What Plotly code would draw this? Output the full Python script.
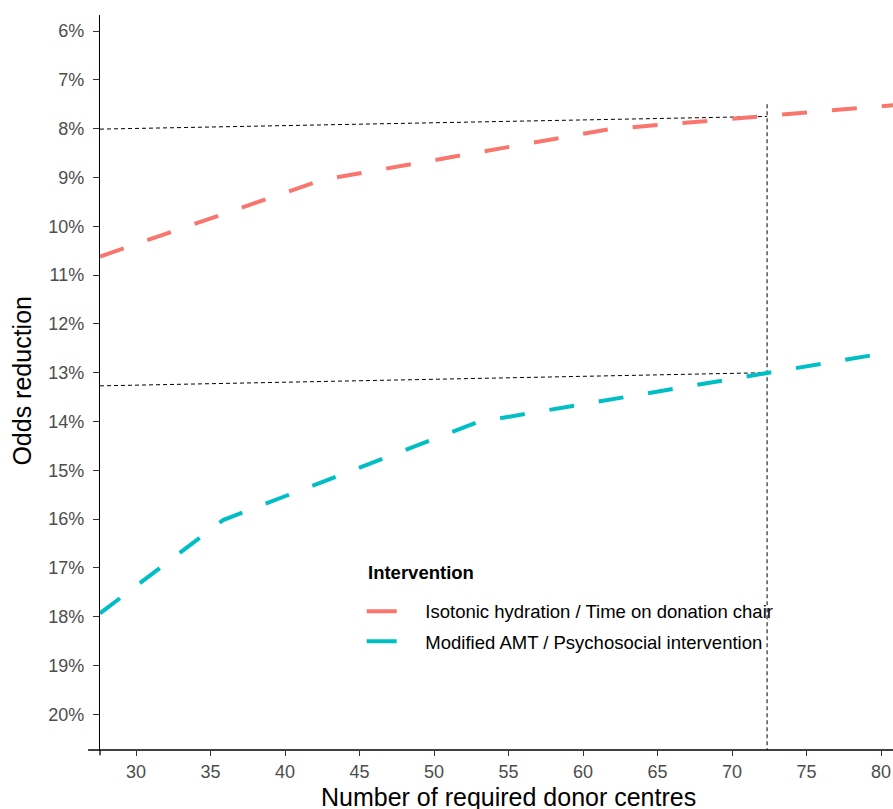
import plotly.graph_objects as go

# ---- data ----
red_name = "Isotonic hydration / Time on donation chair"
red_x = [27.58, 42.5, 61.8, 80.8]
red_y = [10.62, 9.05, 8.01, 7.52]

cyan_name = "Modified AMT / Psychosocial intervention"
cyan_x = [27.58, 35.84, 52.95, 80.8]
cyan_y = [17.93, 16.02, 14.01, 12.57]

ref_x_left = 27.58
ref_x = 72.35
ref_red_left = 8.01
ref_red_right = 7.75
ref_cyan_left = 13.27
ref_cyan_right = 13.0
ref_v_top = 7.5

x_range = [27.58, 80.8]
y_range = [20.73, 5.672]
x_ticks = [30, 35, 40, 45, 50, 55, 60, 65, 70, 75, 80]
y_ticks = list(range(6, 21))
y_ticktext = [f"{v}%" for v in y_ticks]

RED = "#F8766D"
CYAN = "#00BFC4"
FONT = "Liberation Sans, Arial, sans-serif"
PAD = "\u2003\u00a0"  # visual gap between legend key and label

fig = go.Figure()

dot = dict(color="black", width=1, dash="4px,3px")
fig.add_trace(go.Scatter(x=[ref_x_left, ref_x], y=[ref_red_left, ref_red_right],
                         mode="lines", line=dot, showlegend=False, hoverinfo="skip"))
fig.add_trace(go.Scatter(x=[ref_x_left, ref_x], y=[ref_cyan_left, ref_cyan_right],
                         mode="lines", line=dot, showlegend=False, hoverinfo="skip"))
fig.add_trace(go.Scatter(x=[ref_x, ref_x], y=[ref_v_top, y_range[0]],
                         mode="lines", line=dot, showlegend=False, hoverinfo="skip"))

# data lines (dashed)
fig.add_trace(go.Scatter(x=red_x, y=red_y, mode="lines", name=red_name,
                         showlegend=False,
                         line=dict(color=RED, width=4, dash="25px,25px")))
fig.add_trace(go.Scatter(x=cyan_x, y=cyan_y, mode="lines", name=cyan_name,
                         showlegend=False,
                         line=dict(color=CYAN, width=4, dash="25px,25px")))
# legend keys (solid samples as in the reference legend)
fig.add_trace(go.Scatter(x=[None], y=[None], mode="lines", name=PAD + red_name,
                         legendgroup="a", line=dict(color=RED, width=4)))
fig.add_trace(go.Scatter(x=[None], y=[None], mode="lines", name=PAD + cyan_name,
                         legendgroup="b", line=dict(color=CYAN, width=4)))

fig.update_layout(
    width=893, height=809, autosize=False,
    margin=dict(l=100, r=0, t=15, b=59),
    paper_bgcolor="white", plot_bgcolor="white",
    font=dict(family=FONT, color="black"),
    legend=dict(
        x=0.33, y=0.214, xanchor="left", yanchor="top",
        font=dict(size=18.5, color="black"),
        bgcolor="rgba(0,0,0,0)",
        tracegroupgap=3,
    ),
    xaxis=dict(
        range=x_range, tickvals=x_ticks, showgrid=False, zeroline=False,
        showline=False, ticks="outside", ticklen=5, tickcolor="#333333", tickwidth=1,
        tickfont=dict(size=18, color="#4D4D4D", family=FONT),
    ),
    yaxis=dict(
        range=y_range, tickvals=y_ticks, ticktext=y_ticktext, showgrid=False, zeroline=False,
        showline=True, linecolor="black", linewidth=1.3, mirror=False,
        ticks="outside", ticklen=6, tickcolor="#333333", tickwidth=1,
        ticklabelstandoff=5,
        tickfont=dict(size=18, color="#4D4D4D", family=FONT),
    ),
    annotations=[
        dict(text="<b>Intervention</b>", xref="paper", yref="paper",
             x=0.336, y=0.241, xanchor="left", yanchor="middle", showarrow=False,
             font=dict(size=18.5, color="black", family=FONT)),
        dict(text="Number of required donor centres", xref="paper", yref="paper",
             x=0.515, y=-0.064, xanchor="center", yanchor="middle", showarrow=False,
             font=dict(size=25, color="black", family=FONT)),
        dict(text="Odds reduction", xref="paper", yref="paper", textangle=-90,
             x=-0.098, y=0.503, xanchor="center", yanchor="middle", showarrow=False,
             font=dict(size=25, color="black", family=FONT)),
    ],
    shapes=[
        dict(type="line", xref="paper", yref="paper", x0=-0.015, x1=1.0, y0=0, y1=0,
             line=dict(color="black", width=1.3)),
        dict(type="line", xref="paper", yref="paper", x0=0, x1=0, y0=0, y1=-0.007,
             line=dict(color="black", width=1.3)),
    ],
)

fig.write_html("out.html", config={"displayModeBar": False},
               post_script="document.body.style.margin='0';document.body.style.overflow='hidden';")
